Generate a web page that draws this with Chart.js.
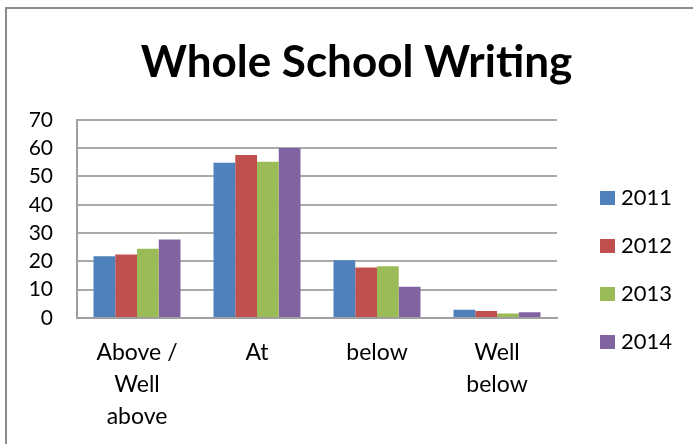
<!DOCTYPE html>
<html>
<head>
<meta charset="utf-8">
<script src="https://cdn.jsdelivr.net/npm/chart.js@4"></script>
<style>
  html, body { margin: 0; padding: 0; background: #fff; }
  body { width: 693px; height: 444px; position: relative; overflow: hidden; }
  .frame { position: absolute; left: 5px; top: 7px; width: 800px; height: 600px; border: 2px solid #8c8c8c; }
  #chart { position: absolute; left: 0; top: 0; }
</style>
</head>
<body>
<div class="frame"></div>
<canvas id="chart" width="693" height="444"></canvas>
<script>
// данные графика
const categories = [['Above /', 'Well', 'above'], 'At', 'below', ['Well', 'below']];
const years = ['2011', '2012', '2013', '2014'];
const values2011 = [21.8, 54.8, 20.4, 2.9];
const values2012 = [22.4, 57.6, 17.8, 2.5];
const values2013 = [24.5, 55.2, 18.3, 1.6];
const values2014 = [27.7, 60, 11.0, 2.0];
const yTicks = [0, 10, 20, 30, 40, 50, 60, 70];

const colors = ['#4F81BD', '#C0504D', '#9BBB59', '#8064A2'];
const series = [values2011, values2012, values2013, values2014];

const font = 'Lato, "Open Sans", sans-serif';

// легенда справа: резервируем место и рисуем сами
const sideLegend = {
    id: 'sideLegend',
    beforeInit(chart) {
        const box = {
            position: 'right',
            weight: 1000,
            fullSize: false,
            options: {},
            isHorizontal() { return false; },
            update(maxW, maxH) { this.width = 136; this.height = maxH; },
            draw() {
                const ctx = chart.ctx;
                ctx.save();
                ctx.font = '22px ' + font;
                ctx.textBaseline = 'middle';
                chart.data.datasets.forEach((ds, i) => {
                    const y = 198 + 48 * i;
                    ctx.fillStyle = ds.backgroundColor;
                    ctx.fillRect(this.left + 43, y - 7, 15, 14);
                    ctx.fillStyle = '#000';
                    ctx.fillText(ds.label, this.left + 64, y);
                });
                ctx.restore();
            }
        };
        Chart.layouts.addBox(chart, box);
    }
};

new Chart(document.getElementById('chart'), {
    type: 'bar',
    data: {
        labels: categories,
        datasets: series.map((vals, i) => ({
            label: years[i],
            data: vals,
            backgroundColor: colors[i],
            categoryPercentage: 0.725,
            barPercentage: 1
        }))
    },
    plugins: [sideLegend],
    options: {
        responsive: false,
        animation: false,
        layout: { padding: { left: 20, right: 0, top: 0, bottom: 0 } },
        plugins: {
            title: {
                display: true,
                text: 'Whole School Writing',
                color: '#000',
                font: { family: font, size: 44, weight: 'bold' },
                padding: { top: 36, bottom: 31 }
            },
            legend: { display: false },
            tooltip: { enabled: false }
        },
        scales: {
            x: {
                grid: { display: false, drawTicks: false },
                border: { display: true, color: '#a0a0a0', width: 2 },
                ticks: {
                    color: '#000',
                    font: { family: font, size: 23, lineHeight: 1.39 },
                    padding: 19,
                    maxRotation: 0
                },
                afterFit: (axis) => { axis.height = 126; }
            },
            y: {
                min: 0,
                max: 70,
                afterBuildTicks: (axis) => { axis.ticks = yTicks.map(v => ({ value: v })); },
                grid: { color: '#aaaaaa', lineWidth: 2, drawTicks: false },
                border: { display: true, color: '#a0a0a0', width: 2 },
                ticks: {
                    color: '#000',
                    font: { family: font, size: 21 },
                    padding: 24
                },
                afterFit: (axis) => { axis.width = 57; }
            }
        }
    }
});
</script>
</body>
</html>
